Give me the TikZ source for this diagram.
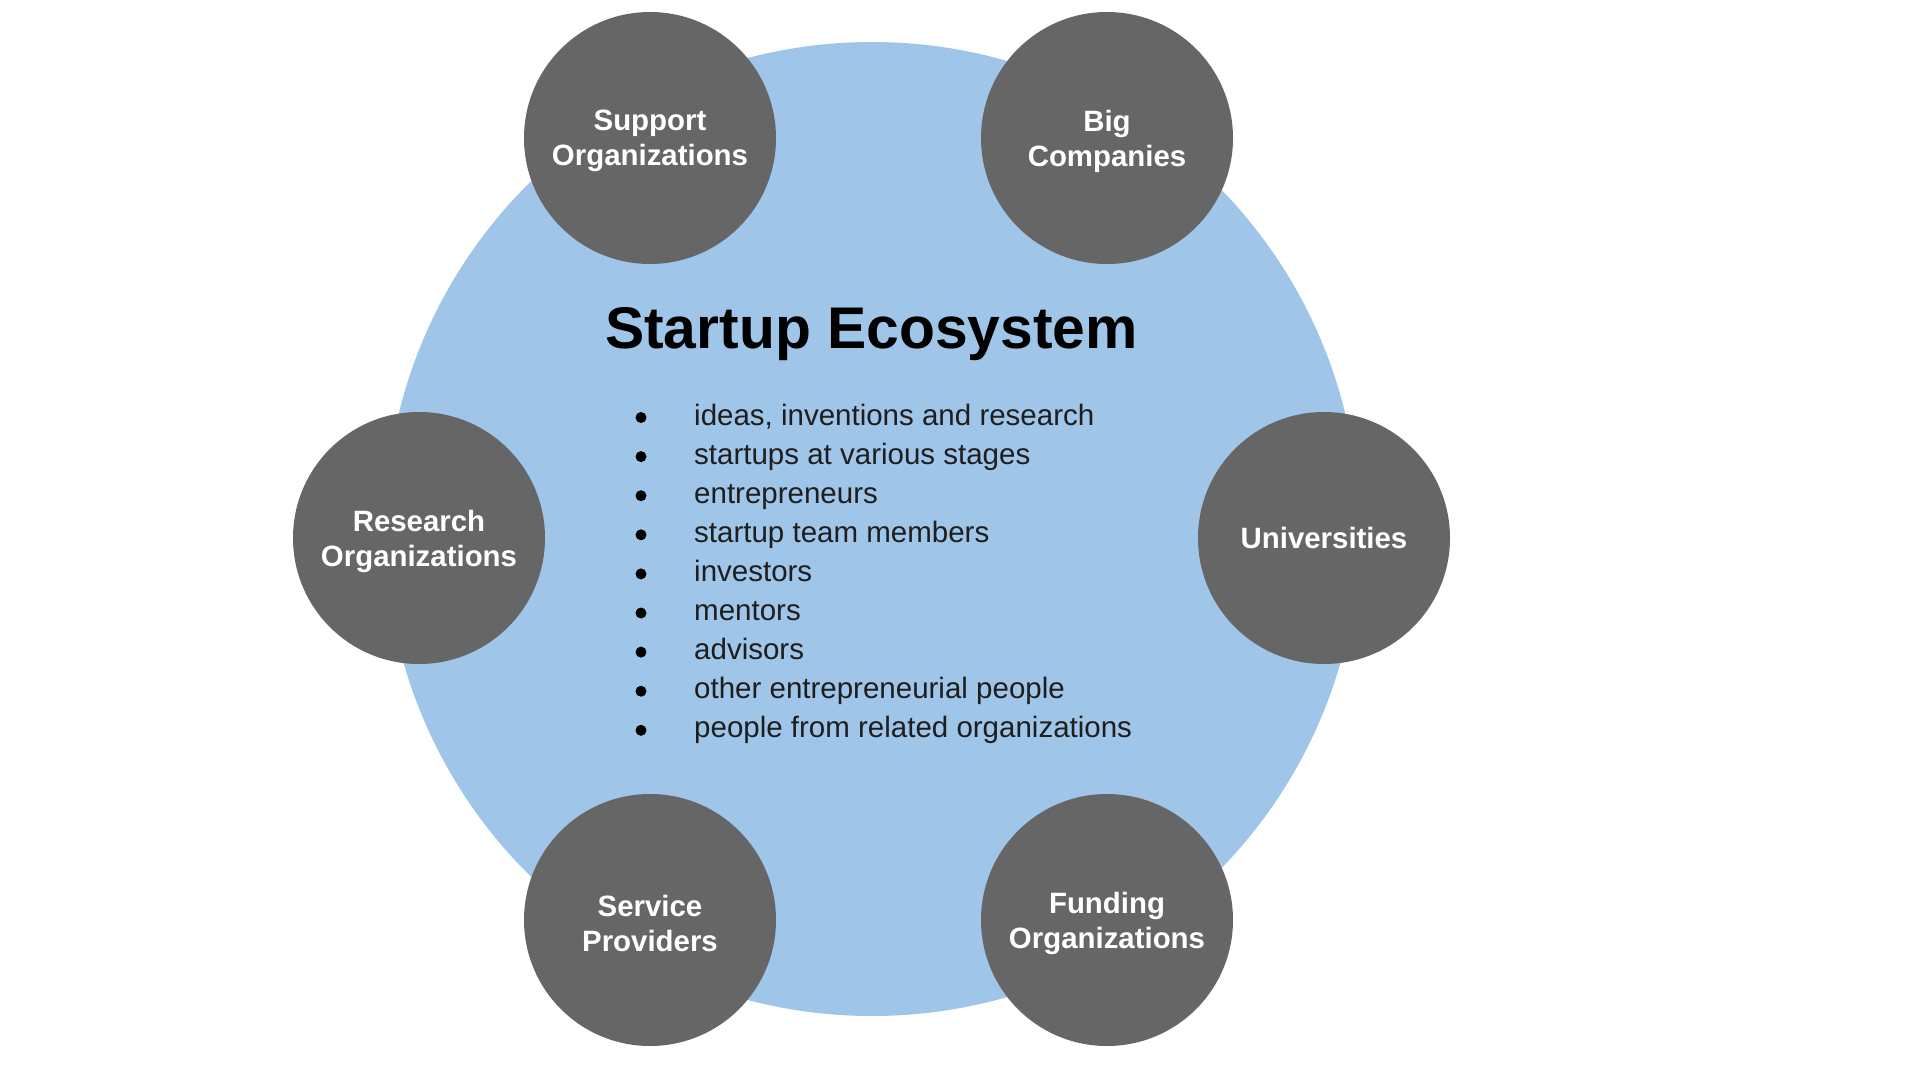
\documentclass[tikz,border=0pt]{standalone}
\usepackage{fontspec}
\setmainfont{Liberation Sans}
\definecolor{ecoblue}{HTML}{9FC5E8}
\definecolor{hubgray}{HTML}{666666}
\definecolor{listtext}{HTML}{1E1E1E}
\tikzset{
  ecocircle/.style={circle, fill=ecoblue, minimum size=974pt, inner sep=0pt},
  hub/.style={circle, fill=hubgray, minimum size=252pt, inner sep=0pt},
  hublabel/.style={inner sep=0pt, text=white, align=center,
    font=\fontsize{29.4}{35}\selectfont\bfseries},
  titletext/.style={anchor=base, inner sep=0pt, text=black,
    font=\fontsize{58.8}{66}\selectfont\bfseries},
  itemtext/.style={anchor=base west, inner sep=0pt, text=listtext,
    font=\fontsize{29.5}{34}\selectfont},
  bulletdot/.style={circle, fill=black, minimum size=11pt, inner sep=0pt}
}
\begin{document}
\begin{tikzpicture}[x=1pt,y=-1pt]
\useasboundingbox (0,0) rectangle (1920,1068);
\fill[white] (0,0) rectangle (1920,1068);
\node[ecocircle] (eco) at (872,529) {};
\node[hub] (support) at (650,138) {};
\node[hub] (big) at (1107,138) {};
\node[hub] (research) at (419,538) {};
\node[hub] (univ) at (1324,538) {};
\node[hub] (service) at (650,920) {};
\node[hub] (funding) at (1107,920) {};
\node[hublabel, yshift=-3pt] (supportlbl) at (support) {Support\\Organizations};
\node[hublabel, yshift=-3pt] (biglbl) at (big) {Big\\Companies};
\node[hublabel, yshift=-3pt] (researchlbl) at (research) {Research\\Organizations};
\node[hublabel] (univlbl) at (univ) {Universities};
\node[hublabel, yshift=-3pt] (servicelbl) at (service) {Service\\Providers};
\node[hublabel, yshift=-3pt] (fundinglbl) at (funding) {Funding\\Organizations};
\node[titletext] (title) at (871.5,348) {Startup Ecosystem};
\foreach \t [count=\i] in {{ideas, inventions and research},
  {startups at various stages}, {entrepreneurs}, {startup team members},
  {investors}, {mentors}, {advisors}, {other entrepreneurial people},
  {people from related organizations}} {
  \node[itemtext] (item\i) at (694,{425+39.1*(\i-1)}) {\t};
  \node[bulletdot] (dot\i) at (641,{417.5+39.1*(\i-1)}) {};
}
\end{tikzpicture}
\end{document}
